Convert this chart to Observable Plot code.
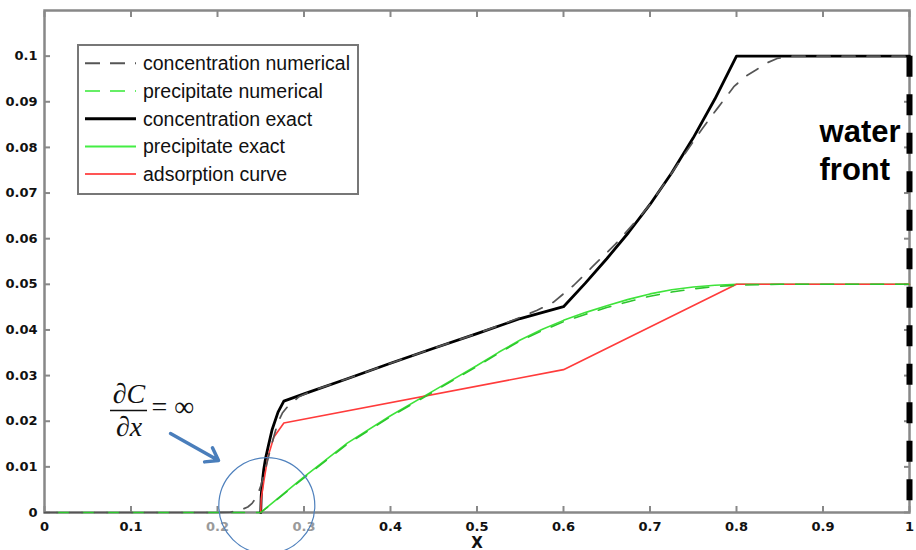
<!DOCTYPE html>
<html>
<head>
<meta charset="utf-8">
<script src="https://cdn.jsdelivr.net/npm/d3@7"></script>
<script src="https://cdn.jsdelivr.net/npm/@observablehq/plot@0.6"></script>
<style>
  html, body { margin: 0; padding: 0; background: #fff; }
  #wrap { position: relative; width: 916px; height: 550px; overflow: hidden; }
  #legend { position: absolute; left: 77px; top: 44px; }
</style>
</head>
<body>
<div id="wrap"></div>
<script>
// ---------- data ----------
const xTicks = [0, 0.1, 0.2, 0.3, 0.4, 0.5, 0.6, 0.7, 0.8, 0.9, 1];
const xTickLabels = ["0", "0.1", "0.2", "0.3", "0.4", "0.5", "0.6", "0.7", "0.8", "0.9", "1"];
const yTicks = [0, 0.01, 0.02, 0.03, 0.04, 0.05, 0.06, 0.07, 0.08, 0.09, 0.1];
const yTickLabels = ["0", "0.01", "0.02", "0.03", "0.04", "0.05", "0.06", "0.07", "0.08", "0.09", "0.1"];
const xLabel = "X";

const seriesNames = ["concentration numerical", "precipitate numerical", "concentration exact", "precipitate exact", "adsorption curve"];

const concNumX = [0, 0.2, 0.215, 0.225, 0.235, 0.24, 0.246, 0.25, 0.254, 0.258, 0.262, 0.266, 0.27, 0.275, 0.2806, 0.2936, 0.31, 0.35, 0.4, 0.45, 0.5, 0.54, 0.5696, 0.5885, 0.6119, 0.6332, 0.66, 0.69, 0.7, 0.72, 0.74, 0.76, 0.7777, 0.7969, 0.81, 0.822, 0.835, 0.847, 0.86, 1.0];
const concNumY = [0, 0, 0.0001, 0.0004, 0.0012, 0.002, 0.0037, 0.0058, 0.0085, 0.0115, 0.0145, 0.0172, 0.0198, 0.0218, 0.0231, 0.0253, 0.0267, 0.0293, 0.0327, 0.0360, 0.0392, 0.0420, 0.0443, 0.0461, 0.0498, 0.0538, 0.0588, 0.0652, 0.0675, 0.0730, 0.0785, 0.0840, 0.0885, 0.0933, 0.0955, 0.0969, 0.0985, 0.0995, 0.1, 0.1];

const precNumX = [0, 0.25, 0.3, 0.35, 0.4, 0.45, 0.5, 0.525, 0.55, 0.575, 0.6, 0.625, 0.65, 0.675, 0.7, 0.725, 0.75, 0.775, 0.8, 0.85, 1.0];
const precNumY = [0, 0, 0.0076, 0.0150, 0.0210, 0.0265, 0.0320, 0.0349, 0.0376, 0.0398, 0.0418, 0.0434, 0.0449, 0.0462, 0.0474, 0.0483, 0.0490, 0.0495, 0.0498, 0.05, 0.05];

const concExactX = [0.25, 0.2505, 0.2517, 0.2535, 0.2555, 0.259, 0.2632, 0.27, 0.2767, 0.3, 0.35, 0.4, 0.45, 0.5, 0.55, 0.6, 0.625, 0.65, 0.675, 0.7, 0.725, 0.75, 0.775, 0.8, 1.0];
const concExactY = [0, 0.0035, 0.0065, 0.0095, 0.0118, 0.0148, 0.0182, 0.0220, 0.0244, 0.0260, 0.0293, 0.0327, 0.0360, 0.0392, 0.0425, 0.0451, 0.0502, 0.0556, 0.0613, 0.0675, 0.0744, 0.0821, 0.0906, 0.1, 0.1];

const precExactX = [0.25, 0.3, 0.35, 0.4, 0.45, 0.5, 0.525, 0.55, 0.575, 0.6, 0.625, 0.65, 0.675, 0.7, 0.725, 0.75, 0.775, 0.8, 1.0];
const precExactY = [0, 0.0078, 0.0152, 0.0212, 0.0267, 0.0322, 0.0351, 0.0378, 0.0401, 0.0421, 0.0438, 0.0453, 0.0467, 0.0479, 0.0488, 0.0494, 0.0498, 0.05, 0.05];

const adsX = [0.25, 0.2505, 0.2537, 0.2582, 0.2651, 0.2767, 0.6, 0.8, 1.0];
const adsY = [0, 0.003, 0.007, 0.0121, 0.0165, 0.0196, 0.0313, 0.05, 0.05];

// water front and annotations (data-space anchor points)
const waterFrontX = [1];
const waterFrontTop = 0.1;
const waterFrontText = [{x: 0.896, y: 0.0728, t: "water\nfront"}];
const fracTop = [{x: 0.0977, y: 0.0239, t: "∂C"}];
const fracBottom = [{x: 0.0977, y: 0.0167, t: "∂x"}];
const fracRight = [{x: 0.1237, y: 0.0211, t: "= ∞"}];
const fracBar = [{y: 0.02237, x1: 0.0763, x2: 0.1191}];
const arrowPts = [{x1: 0.1457, y1: 0.0173, x2: 0.2012, y2: 0.0114}];
const circlePts = [{x: 0.257, y: 0.0015}];

// ---------- build ----------
const toPts = (xs, ys) => xs.map((x, i) => ({x, y: ys[i]}));
const concNum = toPts(concNumX, concNumY);
const precNum = toPts(precNumX, precNumY);
const concExact = toPts(concExactX, concExactY);
const precExact = toPts(precExactX, precExactY);
const ads = toPts(adsX, adsY);

const frameColor = "#888";
const tickFont = {fontSize: 13, fontWeight: "bold", fontFamily: "DejaVu Sans"};

const chart = Plot.plot({
  width: 916,
  height: 550,
  marginLeft: 44,
  marginRight: 7,
  marginTop: 10,
  marginBottom: 38,
  x: {domain: [0, 1]},
  y: {domain: [0, 0.11]},
  style: {background: "#fff", color: "#111", fontFamily: "DejaVu Sans", overflow: "visible"},
  marks: [
    // inward ticks on all four sides
    Plot.axisY(yTicks, {anchor: "left", tickSize: 6, dx: 6, tickFormat: () => "", label: null, stroke: frameColor, strokeWidth: 2}),
    Plot.axisY(yTicks, {anchor: "right", tickSize: 6, dx: -6, tickFormat: () => "", label: null, stroke: frameColor, strokeWidth: 2}),
    Plot.axisX(xTicks, {anchor: "bottom", tickSize: 6, dy: -6, tickFormat: () => "", label: null, stroke: frameColor, strokeWidth: 2}),
    Plot.axisX(xTicks, {anchor: "top", tickSize: 6, dy: 6, tickFormat: () => "", label: null, stroke: frameColor, strokeWidth: 2}),
    // tick labels
    Plot.axisY(yTicks, {anchor: "left", tickSize: 0, tickPadding: 7, label: null,
      tickFormat: d => yTickLabels[yTicks.indexOf(d)], ...tickFont}),
    Plot.axisX(xTicks, {anchor: "bottom", tickSize: 0, tickPadding: 9, label: null,
      tickFormat: d => xTickLabels[xTicks.indexOf(d)], ...tickFont,
      fill: d => (d === 0.2 || d === 0.3) ? "#9a9a9a" : "#111"}),
    Plot.text([xLabel], {frameAnchor: "bottom", dy: 35, lineAnchor: "bottom", text: d => d,
      fontSize: 15, fontWeight: "bold", fontFamily: "DejaVu Sans", fill: "#111"}),
    Plot.frame({stroke: frameColor, strokeWidth: 2.5}),
    // curves
    Plot.line(concExact, {x: "x", y: "y", stroke: "#000", strokeWidth: 2.8}),
    Plot.line(precExact, {x: "x", y: "y", stroke: "#3ee33a", strokeWidth: 1.6}),
    Plot.line(ads, {x: "x", y: "y", stroke: "#ff3b3b", strokeWidth: 1.6}),
    Plot.line(precNum, {x: "x", y: "y", stroke: "#2cc62c", strokeWidth: 1.6, strokeDasharray: "13,12", strokeDashoffset: 13}),
    Plot.line(concNum, {x: "x", y: "y", stroke: "#555", strokeWidth: 1.7, strokeDasharray: "13,12"}),
    // water front
    Plot.ruleX(waterFrontX, {y1: waterFrontTop, y2: 0, stroke: "#000", strokeWidth: 6, strokeDasharray: "21,17.5"}),
    Plot.text(waterFrontText, {x: "x", y: "y", text: "t", textAnchor: "start", lineAnchor: "bottom", lineHeight: 1.22,
      fontSize: 31, fontWeight: "bold", fontFamily: "Liberation Sans, Arial, sans-serif", fill: "#000"}),
    // annotation
    Plot.text(fracTop, {x: "x", y: "y", text: "t", textAnchor: "middle", lineAnchor: "bottom",
      fontSize: 28, fontStyle: "italic", fontFamily: "Liberation Serif, Times New Roman, serif", fill: "#111"}),
    Plot.text(fracBottom, {x: "x", y: "y", text: "t", textAnchor: "middle", lineAnchor: "bottom",
      fontSize: 28, fontStyle: "italic", fontFamily: "Liberation Serif, Times New Roman, serif", fill: "#111"}),
    Plot.text(fracRight, {x: "x", y: "y", text: "t", textAnchor: "start", lineAnchor: "bottom",
      fontSize: 28, fontFamily: "Liberation Serif, Times New Roman, serif", fill: "#111"}),
    Plot.ruleY(fracBar, {y: "y", x1: "x1", x2: "x2", stroke: "#111", strokeWidth: 1.5}),
    Plot.arrow(arrowPts, {x1: "x1", y1: "y1", x2: "x2", y2: "y2", stroke: "#4a7ebb", strokeWidth: 3.5, headLength: 6, headAngle: 70}),
    Plot.dot(circlePts, {x: "x", y: "y", r: 48, stroke: "#4f81bd", strokeWidth: 1.2, fill: "none"})
  ]
});

const wrap = document.getElementById("wrap");
wrap.appendChild(chart);

// ---------- legend (inside plot area, top-left) ----------
const legendStyles = [
  {stroke: "#555", width: 2, dash: "15,10"},
  {stroke: "#66ee66", width: 2, dash: "15,10"},
  {stroke: "#000", width: 3, dash: null},
  {stroke: "#44ee44", width: 2, dash: null},
  {stroke: "#ff5555", width: 2, dash: null}
];
const ns = "http://www.w3.org/2000/svg";
const lg = document.createElementNS(ns, "svg");
lg.setAttribute("id", "legend");
lg.setAttribute("width", 283);
lg.setAttribute("height", 152);
const rect = document.createElementNS(ns, "rect");
rect.setAttribute("x", 1); rect.setAttribute("y", 1);
rect.setAttribute("width", 280); rect.setAttribute("height", 149);
rect.setAttribute("fill", "#fff"); rect.setAttribute("stroke", "#777"); rect.setAttribute("stroke-width", 2);
lg.appendChild(rect);
seriesNames.forEach((name, i) => {
  const cy = 19.3 + i * 27.7;
  const st = legendStyles[i];
  const ln = document.createElementNS(ns, "line");
  ln.setAttribute("x1", 8); ln.setAttribute("x2", 59);
  ln.setAttribute("y1", cy); ln.setAttribute("y2", cy);
  ln.setAttribute("stroke", st.stroke); ln.setAttribute("stroke-width", st.width);
  if (st.dash) ln.setAttribute("stroke-dasharray", st.dash);
  lg.appendChild(ln);
  const tx = document.createElementNS(ns, "text");
  tx.setAttribute("x", 66); tx.setAttribute("y", cy + 6.8);
  tx.setAttribute("font-family", "Liberation Sans, Arial, sans-serif");
  tx.setAttribute("font-size", "19.5");
  tx.setAttribute("fill", "#111");
  tx.textContent = name;
  lg.appendChild(tx);
});
wrap.appendChild(lg);
</script>
</body>
</html>
